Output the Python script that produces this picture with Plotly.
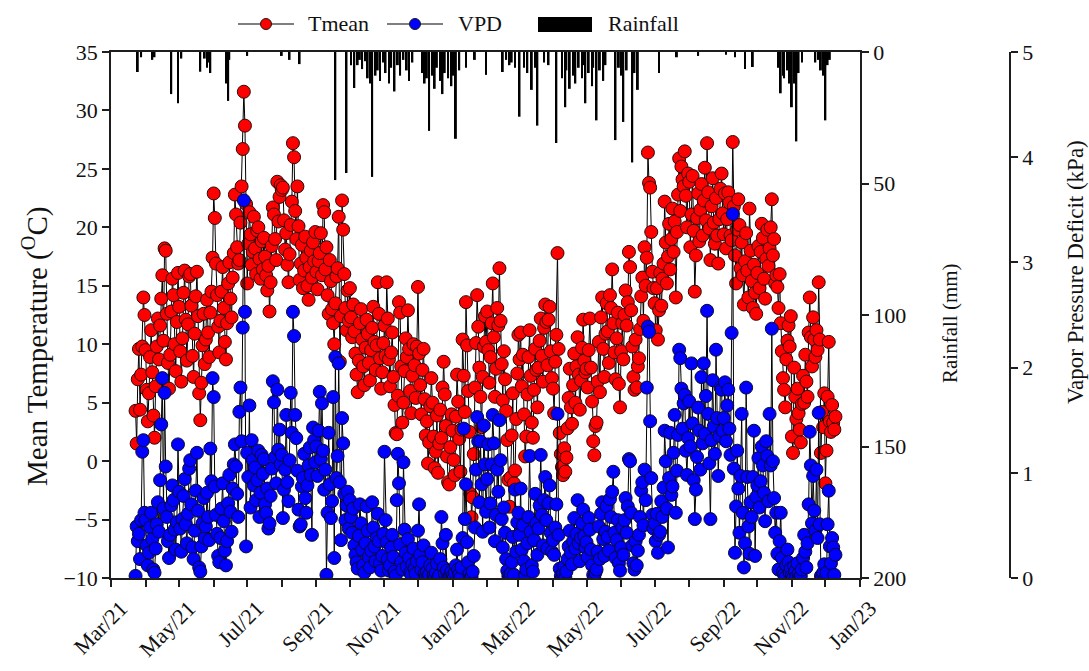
import pandas as pd
import plotly.graph_objects as go

# Daily series start on this date
START = "2021-03-23"

# Daily mean air temperature (deg C), one row per month
tmean = [
    4.3, 1.5, 7.0, 9.6, 4.4, 7.4, 9.8, 14.0, 12.5,  # Mar 2021 (23-31)
    9.5, 6.1, 3.4, 5.8, 8.9, 11.2, 7.6, 3.9, 2.0, 6.4, 9.8, 12.2, 8.7, 11.6, 13.9,
    15.9, 10.3, 18.2, 18.0, 12.6, 8.4, 6.2, 9.1, 12.8, 15.6, 14.2, 10.0, 7.7, 11.9, 16.1,  # Apr
    13.2, 9.4, 6.8, 10.5, 14.4, 16.3, 12.1, 8.6, 11.7, 15.8, 16.0, 13.3, 9.0, 7.2, 10.9,
    14.1, 16.2, 12.4, 5.8, 3.5, 6.7, 9.9, 12.6, 8.3, 10.4, 13.8, 11.0, 8.9, 12.7, 14.5, 17.4,  # May
    22.9, 20.8, 16.9, 14.2, 11.5, 9.3, 12.0, 14.5, 16.6, 13.1, 10.2, 8.7, 11.8, 15.2, 17.0,
    13.9, 12.3, 15.7, 17.8, 22.8, 21.1, 18.3, 16.9, 17.2, 20.4, 23.5, 26.7, 31.6, 28.7, 22.0,  # Jun
    15.2, 18.6, 21.3, 19.4, 16.8, 17.9, 20.9, 18.2, 16.0, 19.7, 20.0, 17.3, 15.6, 18.8, 16.4,
    19.1, 17.5, 15.9, 14.6, 16.7, 12.8, 15.3, 18.4, 21.7, 21.1, 19.0, 17.2, 23.9, 20.5, 22.6, 23.6,  # Jul
    23.2, 23.4, 20.6, 18.1, 19.5, 16.8, 15.3, 17.7, 20.2, 22.2, 27.2, 26.0, 21.4, 19.0, 23.5,
    20.1, 15.5, 16.9, 18.5, 14.8, 16.3, 19.2, 17.4, 15.0, 13.8, 16.6, 18.0, 15.7, 18.7, 17.1, 19.6,  # Aug
    16.2, 14.7, 17.1, 17.8, 19.5, 15.9, 21.9, 21.3, 16.4, 18.3, 14.2, 12.6, 17.2, 15.4, 13.0,
    11.8, 10.0, 13.5, 15.8, 16.5, 20.9, 8.5, 12.4, 22.3, 19.8, 16.0, 13.1, 11.2, 14.6, 12.0,  # Sep
    14.8, 12.3, 10.6, 13.4, 11.1, 9.2, 7.4, 5.9, 8.6, 11.8, 13.0, 10.4, 8.1, 6.5, 9.7,
    12.1, 10.9, 8.4, 6.9, 9.5, 11.4, 13.2, 10.2, 7.8, 9.9, 15.3, 12.6, 8.8, 6.2, 7.6, 10.1,  # Oct
    11.6, 9.0, 15.3, 12.2, 8.7, 6.4, 9.3, 11.0, 7.2, 4.8, 2.4, 2.3, 5.6, 13.6, 12.7,
    8.1, 3.3, 5.0, 7.7, 10.5, 8.9, 12.9, 9.6, 6.0, 4.1, 7.3, 10.0, 8.2, 5.4, 9.8,  # Nov
    14.9, 9.2, 6.5, 4.0, 7.8, 9.6, 5.3, 2.2, 3.4, -0.2, 1.6, 4.7, 7.1, 5.0, 2.1,
    -0.6, 0.8, 3.9, -1.0, 1.5, 4.4, 2.0, 6.3, 8.5, 5.7, 3.0, 0.4, -1.8, -2.0, 1.2, 4.0,  # Dec
    2.6, 0.1, -1.2, 3.8, 7.4, 5.1, 1.9, -0.9, 2.7, 10.4, 7.3, 4.2, 13.6, 9.9, 6.0,
    2.5, -2.8, -4.8, -3.1, 0.6, 6.3, 10.1, 14.2, 11.5, 8.0, 5.5, 2.9, 7.2, 9.8, 12.4, 10.2,  # Jan 2022
    12.8, 9.5, 6.7, 8.9, 11.8, 15.2, 10.6, 5.5, 7.9, 13.1, 11.6, 16.5, 12.0, 8.3,
    5.2, 9.4, 7.0, 4.3, 1.8, -1.6, -3.9, -1.4, 2.2, 5.8, -1.9, -0.8, 3.6, 7.5,  # Feb
    10.8, 8.7, 11.0, 6.4, 9.1, 4.0, 0.4, 2.1, 5.7, 8.9, 11.2, 7.3, 3.3, 2.0, 6.1,
    9.6, 7.8, 4.6, 8.0, 10.3, 12.2, 9.0, 6.8, 11.4, 13.4, 11.9, 8.2, 12.1, 13.2, 9.4, 7.1,  # Mar
    6.2, 4.1, 8.5, 10.8, 17.8, 9.6, 2.4, 0.6, -0.5, -1.2, 1.1, -0.9, 0.3, 2.8, 5.4,
    7.9, 4.6, 3.2, 6.5, 9.2, 5.0, 8.1, 10.6, 7.4, 4.4, 6.9, 9.7, 12.1, 8.6, 7.6,  # Apr
    7.9, 6.3, 9.5, 12.2, 8.0, 5.1, 1.7, 0.5, 3.0, 3.3, 6.8, 10.2, 5.9, 12.3, 14.0,
    9.6, 7.2, 10.9, 13.5, 11.1, 8.4, 14.2, 13.1, 16.4, 11.8, 9.3, 7.0, 10.5, 12.7, 6.6, 4.6,  # May
    9.4, 11.8, 8.7, 12.5, 14.6, 11.6, 13.6, 17.9, 16.6, 12.9, 9.8, 7.2, 6.1, 10.4, 6.3,
    8.1, 8.8, 11.3, 14.1, 15.7, 12.0, 18.3, 15.0, 17.4, 26.4, 23.8, 23.4, 19.6, 16.2, 14.8,  # Jun
    13.5, 11.2, 14.8, 10.4, 12.9, 16.1, 13.3, 15.6, 16.9, 22.2, 18.7, 15.2, 17.5, 20.3, 16.4,
    19.0, 21.6, 17.9, 20.5, 14.0, 19.6, 22.8, 25.9, 21.4, 25.2, 24.1, 23.5, 26.5, 22.7, 20.0, 24.6,  # Jul
    23.9, 18.3, 21.1, 24.4, 19.7, 14.5, 17.6, 20.8, 22.9, 18.8, 21.5, 23.7, 19.3, 22.3, 25.1,
    20.6, 27.2, 23.0, 19.9, 17.2, 21.8, 24.2, 20.4, 18.6, 22.5, 19.3, 16.9, 20.7, 23.3, 24.6, 21.2,  # Aug
    19.4, 22.9, 18.2, 20.7, 23.0, 22.1, 19.3, 18.9, 27.3, 21.8, 17.6, 15.2, 19.8, 22.4, 20.2,
    16.5, 18.7, 15.9, 13.4, 17.1, 19.5, 16.3, 14.0, 21.6, 18.0, 15.4, 13.1, 16.8, 14.4, 12.6,  # Sep
    16.1, 18.4, 14.8, 17.9, 20.3, 19.1, 15.6, 13.9, 17.3, 19.8, 16.7, 18.2, 20.0, 22.4, 17.6,
    19.0, 15.2, 15.9, 14.9, 13.1, 16.0, 11.8, 9.4, 7.1, 6.1, 4.6, 8.7, 10.3, 11.6, 9.8, 12.4,  # Oct
    2.1, 0.7, 8.0, 5.5, 3.6, 6.2, 4.1, 2.7, 1.6, 4.9, 7.3, 5.0, 9.1, 6.8, 5.5,
    11.0, 14.0, 10.6, 8.1, 12.3, 10.4, 8.9, 11.2, 9.5, 15.3, 10.4, 0.7, 4.2, 2.9, 5.8,  # Nov
    -1.9, 0.9, 5.5, 10.2, 3.4, 2.5, 4.8, 3.3, 2.7, 3.8,  # Dec 2022 (1-10)
]

# Daily vapour pressure deficit (kPa)
vpd = [
    0.02, 0.49, 0.35, 0.42, 0.18, 0.55, 1.2, 1.31, 0.62,  # Mar 2021 (23-31)
    0.55, 0.31, 0.12, 0.24, 0.48, 0.62, 0.37, 0.08, 0.05, 0.28, 0.51, 0.72, 0.44, 0.93, 1.46,
    1.9, 0.66, 1.76, 1.06, 0.58, 0.35, 0.19, 0.41, 0.69, 0.88, 0.74, 0.46, 0.27, 0.53, 1.27,  # Apr
    0.82, 0.47, 0.25, 0.56, 0.78, 0.94, 0.51, 0.33, 0.61, 1.04, 1.12, 0.7, 0.29, 0.18, 0.45,
    0.83, 1.19, 0.64, 0.1, 0.06, 0.3, 0.52, 0.76, 0.38, 0.49, 0.81, 0.58, 0.36, 1.23, 0.92, 1.9,  # May
    1.72, 0.87, 0.6, 0.42, 0.21, 0.15, 0.38, 0.66, 0.9, 0.54, 0.26, 0.12, 0.35, 0.71, 0.98,
    0.63, 0.44, 0.85, 1.08, 1.27, 1.06, 0.8, 0.58, 1.58, 1.81, 1.3, 2.38, 3.59, 2.53, 0.3,  # Jun
    1.19, 0.96, 1.64, 0.67, 1.31, 1.12, 0.88, 1.05, 0.74, 0.93, 1.21, 0.58, 0.81, 1.17, 0.99,
    1.13, 0.7, 0.62, 0.85, 0.47, 0.52, 0.78, 1.04, 1.87, 1.67, 1.15, 0.9, 1.79, 1.22, 1.41, 1.08,  # Jul
    1.17, 0.57, 0.84, 1.03, 1.55, 0.91, 0.73, 1.12, 1.76, 1.38, 2.53, 2.3, 1.55, 1.33, 1.02,
    0.65, 0.49, 0.51, 0.87, 0.95, 1.18, 0.76, 0.62, 0.88, 1.07, 1.24, 0.98, 0.41, 1.43, 1.31, 1.1,  # Aug
    1.25, 0.97, 1.4, 1.77, 1.13, 1.66, 1.21, 0.84, 1.03, 0.03, 0.62, 1.38, 0.89, 0.57, 0.73,
    1.72, 0.19, 2.1, 0.95, 1.16, 2.04, 0.91, 0.36, 1.52, 1.28, 0.8, 0.55, 0.69, 0.82, 0.47,  # Sep
    0.74, 0.58, 0.43, 0.66, 0.31, 0.22, 0.15, 0.09, 0.4, 0.7, 0.52, 0.27, 0.12, 0.05, 0.33,
    0.68, 0.45, 0.2, 0.1, 0.26, 0.72, 0.48, 0.3, 0.16, 0.38, 0.61, 0.35, 0.14, 0.07, 0.21, 0.42,  # Oct
    1.2, 0.55, 0.34, 0.18, 0.07, 0.12, 0.29, 0.41, 0.2, 0.06, 0.02, 0.74, 1.18, 0.9, 0.32,
    0.15, 0.08, 1.1, 0.46, 0.24, 0.11, 0.37, 0.19, 0.05, 0.03, 0.13, 0.28, 0.09, 0.04, 0.16,  # Nov
    0.45, 0.7, 0.22, 0.08, 0.15, 0.31, 0.04, 0.01, 0.06, 0.0, 0.03, 0.12, 0.24, 0.09, 0.02,
    0.0, 0.05, 0.14, 0.0, 0.02, 0.18, 0.58, 0.33, 0.1, 0.04, 0.41, 0.07, 0.0, 0.01, 0.03, 0.06,  # Dec
    0.02, 0.0, 0.05, 0.12, 0.27, 0.08, 0.03, 0.0, 0.1, 0.38, 1.42, 0.56, 0.89, 0.34, 0.15,
    0.04, 0.0, 0.01, 0.06, 0.21, 0.48, 1.03, 1.53, 1.3, 0.72, 1.3, 0.89, 0.44, 1.45, 1.08, 0.63,  # Jan 2022
    0.94, 1.27, 0.48, 0.71, 1.08, 1.55, 1.28, 0.35, 0.6, 1.03, 0.82, 1.5, 1.12, 0.56,
    0.29, 0.67, 0.43, 0.18, 0.07, 0.02, 0.0, 0.04, 0.15, 0.39, 0.03, 0.84, 0.25, 0.53,  # Feb
    0.62, 0.41, 0.85, 0.27, 0.5, 0.16, 0.03, 0.08, 0.33, 0.58, 1.16, 0.44, 0.12, 0.06, 0.36,
    0.8, 0.52, 0.22, 0.47, 0.69, 1.17, 0.6, 0.31, 0.74, 0.96, 0.55, 0.28, 0.71, 0.88, 0.43, 0.25,  # Mar
    0.36, 0.22, 0.48, 0.7, 1.56, 0.41, 0.09, 0.02, 0.0, 0.04, 0.11, 0.01, 0.06, 0.18, 0.3,
    0.45, 0.24, 0.13, 0.35, 0.57, 0.28, 0.42, 0.74, 0.33, 0.16, 0.38, 0.52, 0.65, 0.4, 0.29,  # Apr
    0.34, 0.2, 0.57, 0.46, 0.27, 0.12, 0.03, 0.0, 0.05, 0.08, 0.25, 0.49, 0.18, 0.61, 0.72,
    0.37, 0.21, 0.44, 0.68, 0.39, 0.26, 0.75, 0.58, 0.82, 1.01, 0.43, 0.19, 0.36, 0.55, 0.14, 0.07,  # May
    0.29, 0.48, 0.22, 0.55, 0.76, 0.43, 0.68, 1.13, 1.11, 0.62, 0.31, 0.14, 0.08, 0.35, 0.12,
    0.26, 0.41, 0.58, 0.83, 0.91, 0.5, 1.03, 0.74, 1.81, 2.39, 2.34, 1.49, 0.95, 0.6, 0.47,  # Jun
    0.52, 0.35, 0.61, 0.24, 0.41, 0.44, 0.73, 0.58, 0.86, 1.4, 1.11, 0.66, 0.29, 0.95, 1.38,
    0.79, 0.87, 1.19, 1.55, 0.62, 1.02, 1.36, 2.17, 2.09, 1.8, 1.42, 1.66, 1.74, 1.21, 0.98, 1.33,  # Jul
    1.68, 1.25, 2.04, 1.47, 0.93, 0.56, 0.84, 1.15, 1.62, 1.4, 1.03, 1.91, 1.28, 2.04, 1.37,
    1.73, 2.54, 1.56, 1.09, 0.56, 1.31, 1.88, 1.44, 1.18, 2.17, 1.52, 0.97, 1.35, 1.81, 1.79, 1.4,  # Aug
    1.52, 1.86, 1.3, 1.64, 1.79, 1.42, 1.17, 2.33, 3.46, 1.04, 0.24, 0.68, 1.21, 0.85, 0.43,
    0.97, 1.56, 0.62, 0.1, 0.33, 1.81, 0.96, 0.49, 0.23, 0.72, 0.58, 0.96, 1.4, 0.21, 0.77,  # Sep
    0.88, 1.14, 0.67, 0.92, 1.25, 1.07, 0.81, 0.54, 1.3, 1.16, 0.73, 1.56, 1.07, 2.37, 1.11,
    0.76, 0.43, 0.62, 0.23, 0.08, 0.35, 0.62, 0.19, 0.06, 0.03, 0.0, 0.12, 0.27, 0.15, 0.05, 0.09,  # Oct
    0.02, 0.0, 0.11, 0.06, 0.01, 0.14, 0.04, 0.0, 0.02, 0.08, 0.19, 0.41, 0.25, 0.1, 0.33,
    0.7, 1.39, 1.07, 0.52, 0.97, 0.64, 0.45, 1.03, 0.38, 1.57, 0.51, 0.02, 0.0, 0.05, 0.13,  # Nov
    0.0, 0.05, 0.51, 0.83, 0.3, 0.14, 0.38, 0.29, 0.03, 0.22,  # Dec 2022 (1-10)
]

# Rain days and daily totals (mm)
rain_dates = [
    "2021-03-25", "2021-03-28", "2021-04-07", "2021-04-09", "2021-04-24", "2021-04-30",
    "2021-05-03", "2021-05-20", "2021-05-24", "2021-05-26", "2021-05-28", "2021-05-29",
    "2021-06-12", "2021-06-14", "2021-06-15", "2021-07-01", "2021-08-01", "2021-08-08",
    "2021-08-17", "2021-09-18", "2021-09-28", "2021-10-02", "2021-10-05", "2021-10-08",
    "2021-10-10", "2021-10-12", "2021-10-15", "2021-10-17", "2021-10-19", "2021-10-21",
    "2021-10-24", "2021-10-26", "2021-10-28", "2021-10-31", "2021-11-02", "2021-11-05",
    "2021-11-07", "2021-11-10", "2021-11-13", "2021-11-15", "2021-11-18", "2021-11-21",
    "2021-11-23", "2021-11-26", "2021-12-05", "2021-12-07", "2021-12-09", "2021-12-11",
    "2021-12-14", "2021-12-16", "2021-12-18", "2021-12-21", "2021-12-23", "2021-12-25",
    "2021-12-28", "2021-12-31", "2022-01-02", "2022-01-04", "2022-01-07", "2022-01-13",
    "2022-01-21", "2022-01-31", "2022-02-15", "2022-02-18", "2022-02-21", "2022-02-23",
    "2022-02-26", "2022-03-02", "2022-03-06", "2022-03-09", "2022-03-13", "2022-03-16",
    "2022-03-18", "2022-03-24", "2022-03-28", "2022-04-04", "2022-04-09", "2022-04-12",
    "2022-04-13", "2022-04-16", "2022-04-19", "2022-04-21", "2022-04-24", "2022-04-27",
    "2022-04-29", "2022-04-30", "2022-05-03", "2022-05-06", "2022-05-07", "2022-05-10",
    "2022-05-13", "2022-05-16", "2022-05-18", "2022-05-27", "2022-05-30", "2022-06-01",
    "2022-06-03", "2022-06-06", "2022-06-11", "2022-06-13", "2022-06-16", "2022-07-05",
    "2022-07-21", "2022-08-09", "2022-09-03", "2022-09-11", "2022-09-20", "2022-09-27",
    "2022-10-20", "2022-10-22", "2022-10-24", "2022-10-25", "2022-10-28", "2022-10-30",
    "2022-11-01", "2022-11-03", "2022-11-05", "2022-11-07", "2022-11-10", "2022-11-22",
    "2022-11-25", "2022-11-27", "2022-11-29", "2022-12-01", "2022-12-03", "2022-12-05",
]
rain_mm = [
    7.6, 2.0, 3.0, 2.0, 16.0, 19.5,
    2.5, 7.5, 2.5, 6.0, 4.0, 8.0,
    12.0, 18.6, 3.0, 1.5, 1.5, 3.0,
    4.6, 48.7, 46.0, 5.0, 13.7, 5.0,
    3.0, 6.5, 3.5, 10.0, 12.0, 47.5,
    9.0, 7.0, 11.0, 4.0, 8.0, 12.0,
    6.0, 15.0, 5.0, 9.0, 3.0, 7.0,
    11.0, 4.0, 8.0, 12.0, 10.0, 30.0,
    9.0, 14.0, 6.0, 11.0, 16.0, 8.0,
    10.0, 13.0, 9.0, 33.0, 7.0, 6.0,
    3.0, 8.7, 7.6, 3.0, 5.0, 4.0,
    6.0, 24.6, 6.0, 8.0, 14.4, 6.0,
    28.0, 4.0, 5.0, 34.6, 10.0, 21.0,
    7.0, 14.0, 9.0, 12.0, 6.0, 10.0,
    5.0, 19.5, 8.0, 13.0, 6.0, 26.0,
    7.0, 11.0, 5.0, 33.5, 6.0, 9.0,
    26.6, 7.0, 42.0, 8.0, 14.4, 8.0,
    2.0, 1.5, 1.0, 2.0, 6.5, 5.7,
    6.0, 15.7, 9.0, 10.0, 7.0, 12.0,
    21.0, 12.0, 34.0, 8.0, 4.0, 4.0,
    3.0, 7.0, 9.0, 26.0, 5.0, 3.0,
]

# Axis ticks: a tick every month, a label every second month
month_starts = pd.date_range("2021-03-01", "2023-01-01", freq="MS")
label_months = month_starts[::2]
minor_months = month_starts[1::2]
label_text = [d.strftime("%b/%y") for d in label_months]
temp_ticks = [-10, -5, 0, 5, 10, 15, 20, 25, 30, 35]
rain_ticks = [0, 50, 100, 150, 200]
vpd_ticks = [0, 1, 2, 3, 4, 5]

series_names = ["Tmean", "VPD", "Rainfall"]
series_colors = ["#ff0000", "#0000ff", "#000000"]
axis_titles = ["Mean Temperature (<sup>O</sup>C)", "Rainfall (mm)", "Vapor Pressure Deficit (kPa)"]

days_t = pd.date_range(START, periods=len(tmean), freq="D")
days_v = pd.date_range(START, periods=len(vpd), freq="D")

FONT = "Liberation Serif"
INK = "#111111"
AXIS = "#1e1e1e"
DAY_MS = 86400000
TICK_SIZE = 22

fig = go.Figure()

fig.add_trace(go.Bar(
    x=pd.to_datetime(rain_dates), y=rain_mm, yaxis="y2", name=series_names[2],
    marker=dict(color=series_colors[2], line=dict(width=0)),
    width=DAY_MS * 1.7, showlegend=False, hoverinfo="skip",
))

fig.add_trace(go.Scatter(
    x=days_t, y=tmean, name=series_names[0], mode="lines+markers",
    line=dict(color="black", width=1), showlegend=False,
    marker=dict(color=series_colors[0], size=13, line=dict(color="#2a0a0a", width=1)),
))

fig.add_trace(go.Scatter(
    x=days_v, y=vpd, name=series_names[1], mode="lines+markers", yaxis="y3",
    line=dict(color="black", width=1), showlegend=False,
    marker=dict(color=series_colors[1], size=13, line=dict(color="#0a0a2a", width=1)),
))

axis_common = dict(
    showline=True, linecolor=AXIS, linewidth=1.5, ticks="outside", ticklen=7,
    tickwidth=1.5, tickcolor=AXIS, showgrid=False, zeroline=False,
    automargin=False, tickfont=dict(family=FONT, size=TICK_SIZE, color=INK),
)

# plot-area geometry in pixels, used to place the key and the axis titles
M_L, M_R, M_T, M_B = 111, 40, 52, 93
W, H = 1089, 671
AREA_W = W - M_L - M_R
AREA_H = H - M_T - M_B


def fx(px):
    return (px - M_L) / AREA_W


def fy(py):
    return (H - M_B - py) / AREA_H


key_y = 24
shapes = []
annotations = []
# line-and-marker entries
for name, color, x_line, x_text in [
    (series_names[0], series_colors[0], 238, 306),
    (series_names[1], series_colors[1], 387, 456),
]:
    shapes.append(dict(type="line", xref="paper", yref="paper",
                       x0=fx(x_line), x1=fx(x_line + 56), y0=fy(key_y), y1=fy(key_y),
                       line=dict(color="black", width=1.2)))
    cx = x_line + 28
    shapes.append(dict(type="circle", xref="paper", yref="paper",
                       x0=fx(cx - 5.5), x1=fx(cx + 5.5), y0=fy(key_y + 5.5), y1=fy(key_y - 5.5),
                       fillcolor=color, line=dict(color="#1a1a1a", width=1)))
    annotations.append(dict(text=name, xref="paper", yref="paper", x=fx(x_text), y=fy(key_y),
                            xanchor="left", yanchor="middle", showarrow=False,
                            font=dict(family=FONT, size=TICK_SIZE, color=INK)))
# filled band for the rainfall bars
shapes.append(dict(type="rect", xref="paper", yref="paper",
                   x0=fx(538), x1=fx(592), y0=fy(32), y1=fy(17),
                   fillcolor=series_colors[2], line=dict(width=0)))
annotations.append(dict(text=series_names[2], xref="paper", yref="paper", x=fx(606), y=fy(key_y),
                        xanchor="left", yanchor="middle", showarrow=False,
                        font=dict(family=FONT, size=TICK_SIZE, color=INK)))

# vertical axis titles
for text, px, py, size in [
    (axis_titles[0], 35, 347, 29),
    (axis_titles[1], 950, 323, 21),
    (axis_titles[2], 1075, 272, 23),
]:
    annotations.append(dict(text=text, xref="paper", yref="paper", x=fx(px), y=fy(py),
                            xanchor="center", yanchor="middle", textangle=-90, showarrow=False,
                            font=dict(family=FONT, size=size, color=INK)))

fig.update_layout(
    template="none",
    width=W, height=H,
    margin=dict(l=M_L, r=M_R, t=M_T, b=M_B),
    paper_bgcolor="white", plot_bgcolor="white",
    font=dict(family=FONT, size=TICK_SIZE, color=INK),
    showlegend=False,
    shapes=shapes,
    annotations=annotations,
    xaxis=dict(
        domain=[0, fx(860)], range=["2021-03-01", "2023-01-01"],
        tickvals=label_months, ticktext=label_text, tickangle=-45, ticklabelshift=10,
        minor=dict(tickvals=minor_months, ticks="outside", ticklen=7,
                   tickwidth=1.5, tickcolor=AXIS, showgrid=False),
        mirror=True, **axis_common,
    ),
    yaxis=dict(range=[-10, 35], tickvals=temp_ticks, **axis_common),
    yaxis2=dict(
        overlaying="y", side="right", anchor="x", range=[200, 0], tickvals=rain_ticks,
        **axis_common,
    ),
    yaxis3=dict(
        overlaying="y", side="right", anchor="free", position=fx(1010),
        range=[0, 5], tickvals=vpd_ticks, **axis_common,
    ),
)

fig.write_html("out.html")
